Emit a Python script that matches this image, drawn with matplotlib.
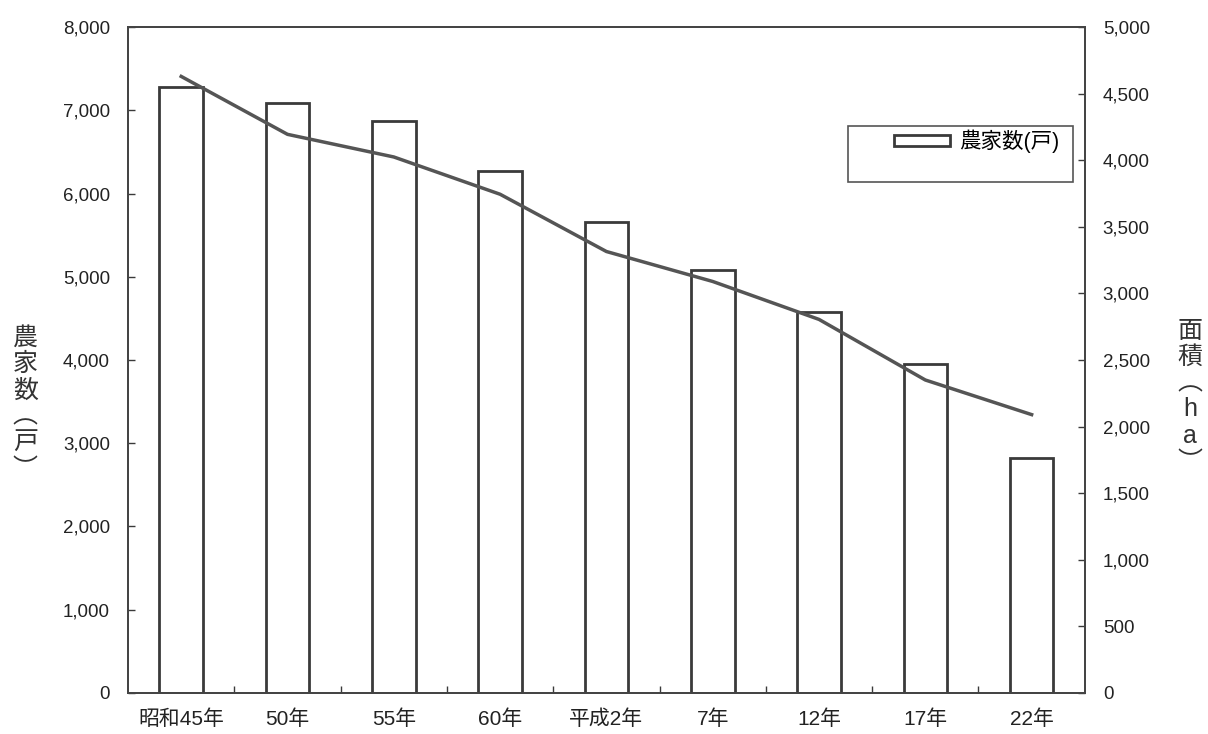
import matplotlib
matplotlib.use("Agg")
import matplotlib.pyplot as plt
from matplotlib.patches import Rectangle
from matplotlib.ticker import FuncFormatter, MultipleLocator
import numpy as np

plt.rcParams['font.family'] = ['Liberation Sans', 'Noto Sans CJK JP', 'DejaVu Sans']

# data
years = ['昭和45年', '50年', '55年', '60年', '平成2年', '7年', '12年', '17年', '22年']
farms = [7285, 7085, 6870, 6270, 5660, 5080, 4580, 3955, 2820]      # 農家数(戸)
area = [4630, 4195, 4025, 3745, 3315, 3090, 2805, 2350, 2090]       # 面積(ha)

dark = '#3a3a3a'

fig = plt.figure(figsize=(12.08, 7.34), dpi=100)
ax = fig.add_axes([0.106, 0.056, 0.792, 0.907])
ax2 = ax.twinx()

x = np.arange(len(years))
ax.bar(x, farms, width=0.41, facecolor='white', edgecolor=dark, linewidth=2.0,
       label='農家数(戸)', zorder=2)
ax2.plot(x, area, color='#555555', linewidth=2.5, zorder=3)

ax.set_xlim(-0.5, len(years) - 0.5)
ax.set_ylim(0, 8000)
ax2.set_ylim(0, 5000)
ax.yaxis.set_major_locator(MultipleLocator(1000))
ax2.yaxis.set_major_locator(MultipleLocator(500))
fmt = FuncFormatter(lambda v, p: f'{int(v):,}')
ax.yaxis.set_major_formatter(fmt)
ax2.yaxis.set_major_formatter(fmt)

ax.set_xticks(x)
ax.set_xticklabels(years)
ax.set_xticks(x[:-1] + 0.5, minor=True)
ax.tick_params(axis='x', which='major', length=0, pad=12, labelsize=15,
               labelcolor='#222222')
ax.tick_params(axis='x', which='minor', direction='in', length=5, width=1, color=dark)
ax.tick_params(axis='y', direction='in', length=5, width=1, color=dark, pad=13,
               labelsize=13.5, labelcolor='#222222')
ax2.tick_params(axis='y', direction='in', length=5, width=1, color=dark, pad=13,
                labelsize=13.5, labelcolor='#222222')

for a in (ax, ax2):
    for s in a.spines.values():
        s.set_color('#444444')
        s.set_linewidth(1.3)

ax.set_zorder(ax2.get_zorder() - 1)
ax.patch.set_visible(True)
ax2.patch.set_visible(False)

# stacked vertical axis titles
fig.text(0.021, 0.45, '農\n家\n数\n︵\n戸\n︶', ha='center', va='center',
         fontsize=18, linespacing=1.12, color='#333333')
fig.text(0.985, 0.46, '面\n積\n︵\nh\na\n︶', ha='center', va='center',
         fontsize=18, linespacing=1.12, color='#333333')

# legend box
ax2.add_patch(Rectangle((0.752, 0.767), 0.236, 0.084, transform=ax2.transAxes,
                        facecolor='white', edgecolor='#555555', linewidth=1.2, zorder=5))
leg = ax2.legend(*ax.get_legend_handles_labels(), loc='center left',
                 bbox_to_anchor=(0.792, 0.828), frameon=False, fontsize=15.5,
                 handlelength=2.6, handleheight=0.4, handletextpad=0.4,
                 borderaxespad=0)
leg.set_zorder(6)

fig.savefig('out.png', dpi=100, facecolor='white')
